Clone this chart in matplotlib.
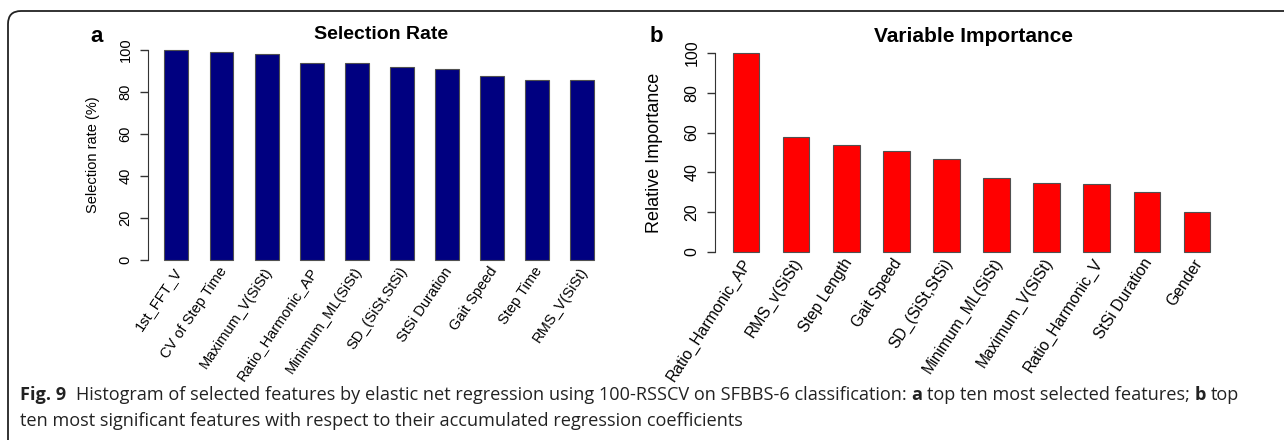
import numpy as np
import matplotlib
matplotlib.use("Agg")
import matplotlib.pyplot as plt
from matplotlib.path import Path
from matplotlib.patches import PathPatch

plt.rcParams['font.family'] = ['Liberation Sans', 'DejaVu Sans']

# panel a: selection rate
sel_features = ["1st_FFT_V", "CV of Step Time", "Maximum_V(SiSt)", "Ratio_Harmonic_AP",
                "Minimum_ML(SiSt)", "SD_(SiSt,StSi)", "StSi Duration", "Gait Speed",
                "Step Time", "RMS_V(SiSt)"]
sel_rate = [100, 99.2, 97.9, 94.0, 94.0, 91.8, 91.1, 87.8, 85.8, 85.8]

# panel b: variable importance
imp_features = ["Ratio_Harmonic_AP", "RMS_v(SiSt)", "Step Length", "Gait Speed",
                "SD_(SiSt,StSi)", "Minimum_ML(SiSt)", "Maximum_V(SiSt)", "Ratio_Harmonic_V",
                "StSi Duration", "Gender"]
rel_importance = [100, 57.9, 53.9, 50.7, 46.8, 37.2, 34.5, 34.0, 30.1, 19.9]

y_ticks = [0, 20, 40, 60, 80, 100]

caption_1 = [("Fig. 9", True), (None, 2),
             ("Histogram of selected features by elastic net regression using 100-RSSCV on SFBBS-6 classification:", False),
             (None, 1), ("a", True), (None, 1), ("top ten most selected features;", False),
             (None, 1), ("b", True), (None, 1), ("top", False)]
caption_2 = [("ten most significant features with respect to their accumulated regression coefficients", False)]

W, H = 1284, 440
fig = plt.figure(figsize=(W / 100, H / 100), dpi=100)
fig.patch.set_facecolor('white')


def px_axes(x0, x1, ytop, ybot):
    return fig.add_axes([x0 / W, 1 - ybot / H, (x1 - x0) / W, (ybot - ytop) / H])


def r_barplot(ax, labels, values, color, xleft, rot, tick_fs, lab_fs, lab_off):
    x = np.arange(len(values))
    ax.bar(x, values, width=0.53, color=color, edgecolor='#505050', linewidth=0.8, clip_on=False)
    ax.set_xlim(xleft, 9.7)
    ax.set_ylim(0, 100)
    for s in ['top', 'right', 'bottom']:
        ax.spines[s].set_visible(False)
    ax.spines['left'].set_bounds(0, 100)
    ax.spines['left'].set_color('#333333')
    ax.set_xticks([])
    ax.set_yticks(y_ticks)
    ax.tick_params(axis='y', length=6, width=1, color='#333333', labelsize=tick_fs,
                   labelrotation=90, pad=5)
    for lab in ax.get_yticklabels():
        lab.set_va('center')
    for i, lab in enumerate(labels):
        ax.text(i + 0.05, lab_off, lab, rotation=rot, ha='right', va='center',
                rotation_mode='anchor', fontsize=lab_fs, clip_on=False)
    ax.patch.set_alpha(0)


# panel a
ax1 = px_axes(148, 614, 50, 260)
r_barplot(ax1, sel_features, sel_rate, '#000080', -0.63, 56, 10.5, 10.5, -4)
ax1.set_ylabel("Selection rate (%)", fontsize=10.5)
ax1.yaxis.set_label_coords((100 - 148) / (614 - 148), 0.5)
ax1.set_title("Selection Rate", fontsize=14, fontweight='bold', pad=8)
fig.text(97 / W, 1 - 37 / H, "a", fontsize=16, fontweight='bold', ha='center', va='center')

# panel b
ax2 = px_axes(715, 1232, 53, 252)
r_barplot(ax2, imp_features, rel_importance, '#ff0000', -0.62, 57, 11.5, 11.3, -4)
ax2.set_ylabel("Relative Importance", fontsize=13)
ax2.yaxis.set_label_coords((663 - 715) / (1232 - 715), 0.5)
ax2.set_title("Variable Importance", fontsize=15, fontweight='bold', pad=8)
fig.text(656 / W, 1 - 37 / H, "b", fontsize=16, fontweight='bold', ha='center', va='center')

# frame: top and left rule with rounded corner
r = 13
verts = [(8, H + 5), (8, 11 + r), (8, 11), (8 + r, 11), (W + 5, 11)]
codes = [Path.MOVETO, Path.LINETO, Path.CURVE3, Path.CURVE3, Path.LINETO]
verts = [(vx / W, 1 - vy / H) for vx, vy in verts]
fig.add_artist(PathPatch(Path(verts, codes), transform=fig.transFigure,
                         fill=False, edgecolor='#222222', linewidth=1.3))

# caption
cap_font = ['Open Sans', 'DejaVu Sans']
renderer = fig.canvas.get_renderer()


def width_of(txt, fs, bold):
    t = fig.text(0, 0, txt, fontsize=fs, fontweight='bold' if bold else 'normal', family=cap_font)
    w = t.get_window_extent(renderer).width
    t.remove()
    return w


def draw_runs(x, y, runs, fs):
    space = width_of("x x", fs, False) - width_of("xx", fs, False)
    for txt, v in runs:
        if txt is None:
            x += space * v
            continue
        t = fig.text(x / W, 1 - y / H, txt, fontsize=fs, family=cap_font, va='baseline',
                     fontweight='bold' if v else 'normal', color='#222222')
        x += t.get_window_extent(renderer).width
    return x


def runs_width(runs, fs):
    space = width_of("x x", fs, False) - width_of("xx", fs, False)
    return sum(space * v if txt is None else width_of(txt, fs, v) for txt, v in runs)


cap_fs = 10 * 1222 / runs_width(caption_1, 10)
draw_runs(20, 400, caption_1, cap_fs)
draw_runs(20, 426, caption_2, cap_fs)

fig.savefig("out.png", dpi=100)
